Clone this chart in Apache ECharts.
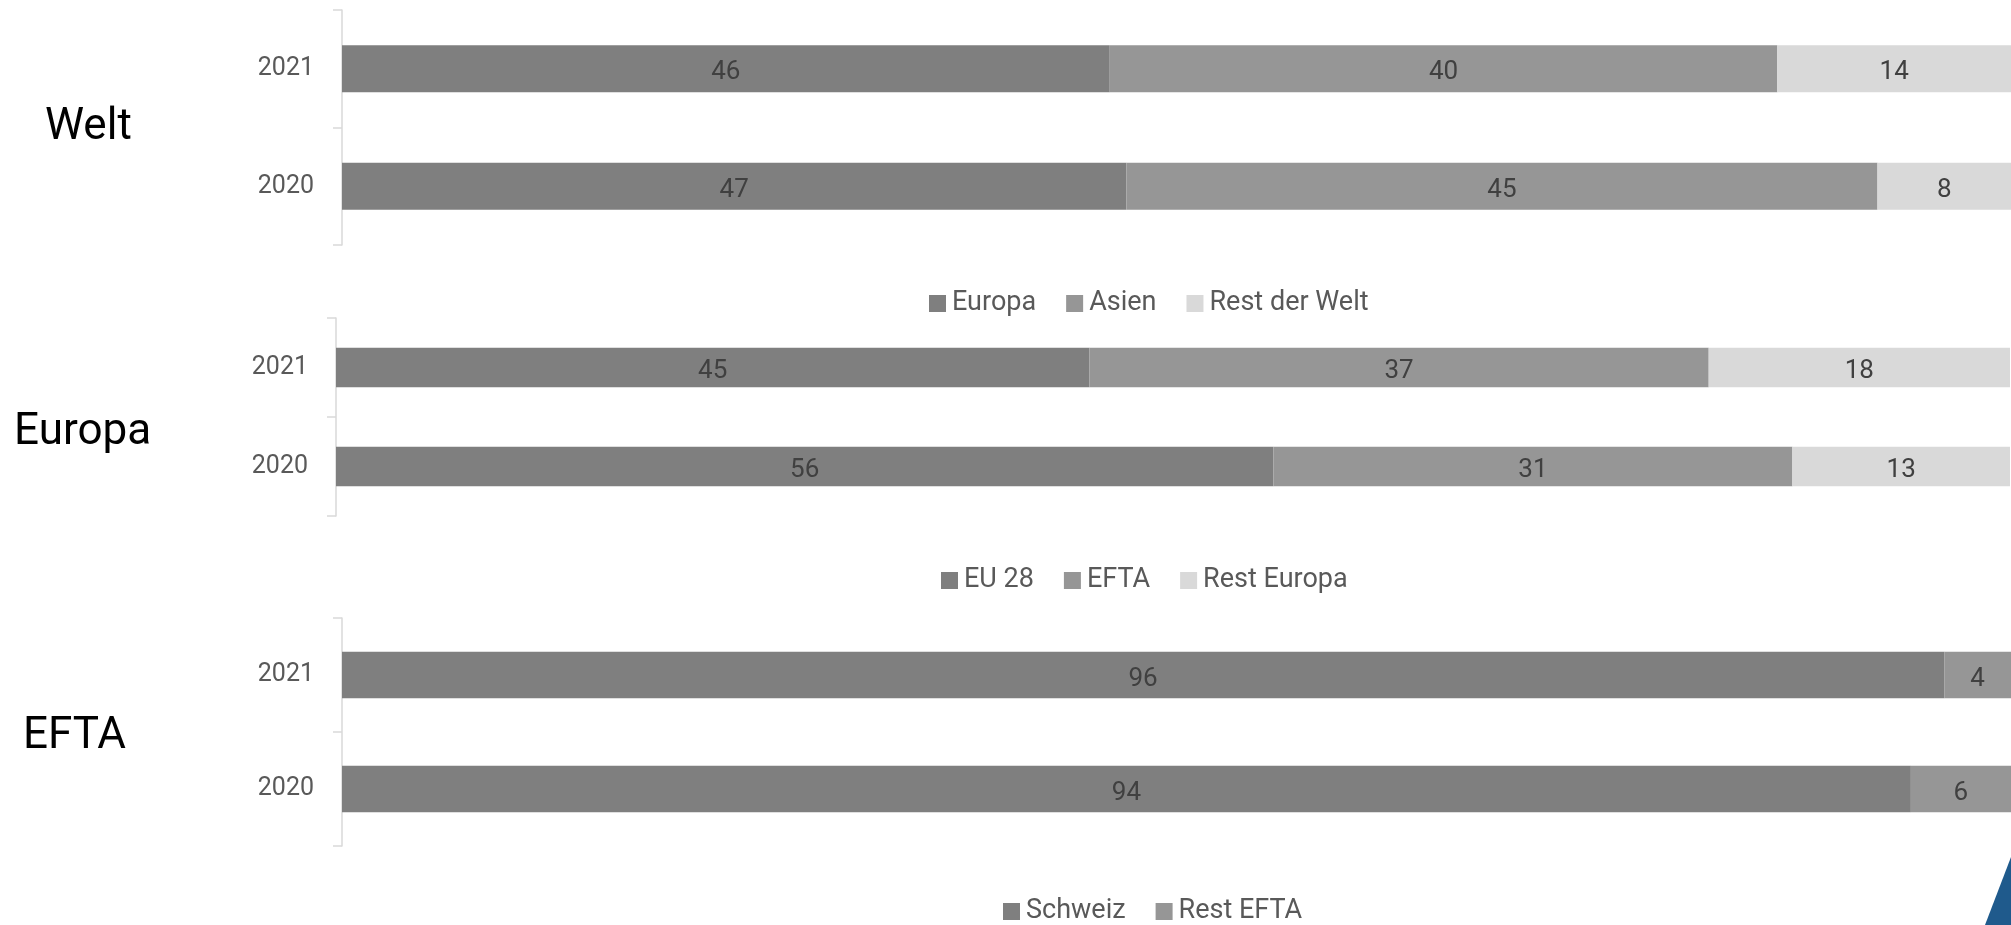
<!DOCTYPE html>
<html>
<head>
<meta charset="utf-8">
<script src="https://cdn.jsdelivr.net/npm/echarts@6/dist/echarts.min.js"></script>
<style>html,body{margin:0;padding:0;background:#fff;}#c{width:2011px;height:925px;}</style>
</head>
<body>
<div id="c"></div>
<script>
const years = ['2020', '2021'];
// Welt
const weltEuropa = [47, 46];
const weltAsien = [45, 40];
const weltRest = [8, 14];
// Europa
const eu28 = [56, 45];
const eftaShare = [31, 37];
const restEuropa = [13, 18];
// EFTA
const schweiz = [94, 96];
const restEfta = [6, 4];

const panelTitles = ['Welt', 'Europa', 'EFTA'];

const FONT = 'Roboto, "Noto Sans", sans-serif';
const C1 = '#7f7f7f', C2 = '#969696', C3 = '#d9d9d9';

const grids = [
  { left: 342, top: 10, width: 1682, height: 235 },
  { left: 336, top: 318, width: 1674, height: 198 },
  { left: 342, top: 618, width: 1682, height: 228 }
];

function yAx(i) {
  return {
    type: 'category', gridIndex: i, data: years,
    axisLine: { show: true, lineStyle: { color: '#d9d9d9', width: 1.5 } },
    axisTick: { show: true, length: 9, lineStyle: { color: '#d9d9d9', width: 1.5 } },
    axisLabel: { color: '#595959', fontSize: 25, fontFamily: FONT, margin: 28 }
  };
}
function xAx(i) {
  return { type: 'value', gridIndex: i, min: 0, max: 100, show: false };
}
function ser(name, data, color, i, gap) {
  return {
    name: name, type: 'bar', stack: 's' + i, xAxisIndex: i, yAxisIndex: i,
    data: data, barCategoryGap: gap,
    itemStyle: { color: color },
    label: { show: true, position: 'inside', offset: [0, 4], color: '#404040', fontSize: 26, fontFamily: FONT },
    emphasis: { disabled: true }
  };
}
function leg(names, left, top) {
  return {
    data: names, left: left, top: top, orient: 'horizontal',
    icon: 'rect', itemWidth: 17, itemHeight: 17, itemGap: 30,
    textStyle: { color: '#595959', fontSize: 27, fontFamily: FONT, padding: [0, 0, 0, 1] },
    selectedMode: false
  };
}

const chart = echarts.init(document.getElementById('c'), null, { renderer: 'canvas' });
chart.setOption({
  backgroundColor: '#ffffff',
  animation: false,
  grid: grids,
  xAxis: [xAx(0), xAx(1), xAx(2)],
  yAxis: [yAx(0), yAx(1), yAx(2)],
  legend: [
    leg(['Europa', 'Asien', 'Rest der Welt'], 924, 285),
    leg(['EU 28', 'EFTA', 'Rest Europa'], 936, 562),
    leg(['Schweiz', 'Rest EFTA'], 998, 893)
  ],
  series: [
    ser('Europa', weltEuropa, C1, 0, '60%'),
    ser('Asien', weltAsien, C2, 0, '60%'),
    ser('Rest der Welt', weltRest, C3, 0, '60%'),
    ser('EU 28', eu28, C1, 1, '60%'),
    ser('EFTA', eftaShare, C2, 1, '60%'),
    ser('Rest Europa', restEuropa, C3, 1, '60%'),
    ser('Schweiz', schweiz, C1, 2, '59%'),
    ser('Rest EFTA', restEfta, C2, 2, '59%')
  ],
  graphic: [
    { type: 'text', left: 45, top: 106, style: { text: panelTitles[0], fill: '#000', font: '44px ' + FONT } },
    { type: 'text', left: 14, top: 411, style: { text: panelTitles[1], fill: '#000', font: '44px ' + FONT } },
    { type: 'text', left: 23, top: 715, style: { text: panelTitles[2], fill: '#000', font: '44px ' + FONT } },
    { type: 'polygon', silent: true, shape: { points: [[1985, 925], [2011, 857], [2011, 925]] }, style: { fill: '#1f5a8c' } }
  ]
});
</script>
</body>
</html>
